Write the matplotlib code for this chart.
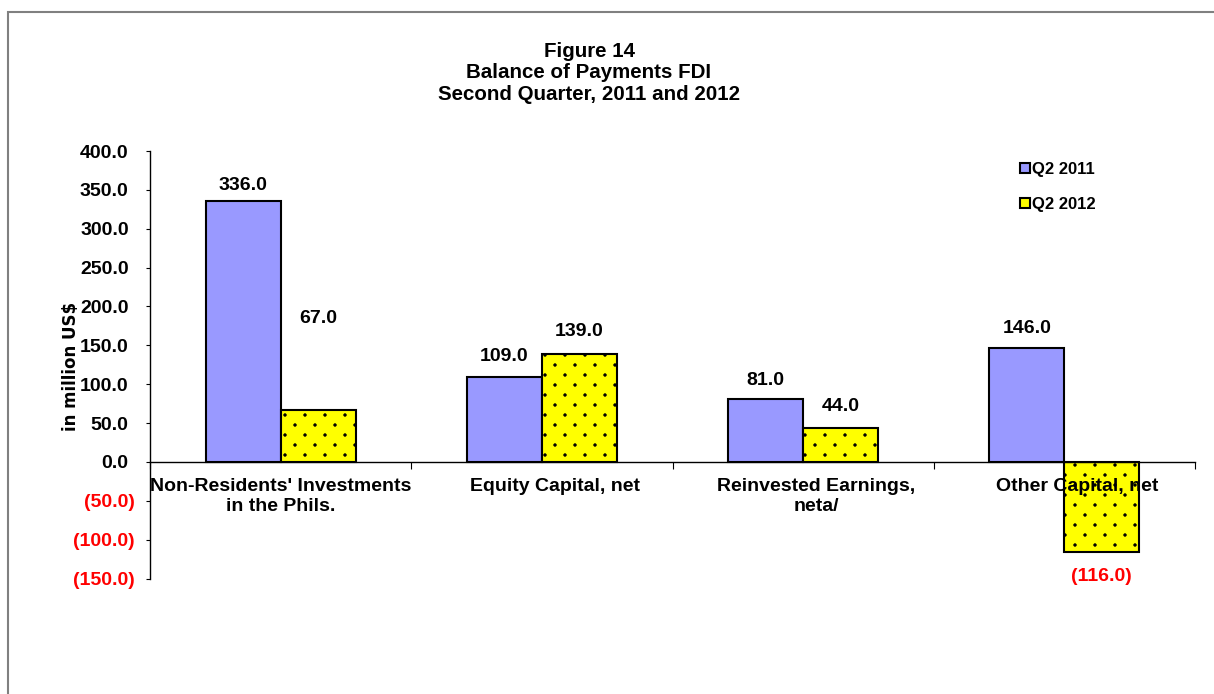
import matplotlib
matplotlib.use("Agg")
import matplotlib.pyplot as plt
import matplotlib.hatch as mhatch
import matplotlib.transforms as mtrans
from matplotlib.path import Path
import numpy as np
from matplotlib.ticker import FuncFormatter, FixedLocator
from matplotlib.patches import Rectangle

categories = ["Non-Residents' Investments\nin the Phils.", "Equity Capital, net",
              "Reinvested Earnings,\nneta/", "Other Capital, net"]
q2_2011 = [336.0, 109.0, 81.0, 146.0]
q2_2012 = [67.0, 139.0, 44.0, -116.0]
series_names = ["Q2 2011", "Q2 2012"]
yticks = [-150, -100, -50, 0, 50, 100, 150, 200, 250, 300, 350, 400]


# sparse staggered dot hatch (Excel-like dotted pattern)
class SparseDots(mhatch.HatchPatternBase):
    R, C, r = 10, 5, 0.013

    def __init__(self, hatch, density):
        n = hatch.count('.')
        self._circ = Path.unit_circle()
        self.num_vertices = (self.R * self.C * len(self._circ.vertices)) if n else 0

    def set_vertices_and_codes(self, vertices, codes):
        cv = self._circ.vertices * self.r
        cc = self._circ.codes
        vp, cp = [], []
        for j in range(self.R):
            for i in range(self.C):
                x0 = (i + 0.25 + 0.5 * (j % 2)) / self.C
                y0 = (j + 0.5) / self.R
                vp.append(cv + [x0, y0])
                cp.append(cc)
        np.concatenate(vp, out=vertices)
        np.concatenate(cp, out=codes)


try:
    mhatch._hatch_types = [SparseDots if t is mhatch.SmallFilledCircles else t
                           for t in mhatch._hatch_types]
except Exception:
    pass

plt.rcParams['font.family'] = ['Liberation Sans', 'DejaVu Sans']
plt.rcParams['font.weight'] = 'bold'
plt.rcParams['hatch.color'] = '#55553a'
plt.rcParams['hatch.linewidth'] = 0.5

W, H = 1214, 694
fig = plt.figure(figsize=(W/100, H/100), dpi=100)
fig.patches.append(Rectangle((8/W, -0.1), 1.2, 1 - 12/H + 0.1, transform=fig.transFigure,
                             fill=False, edgecolor='#808080', linewidth=1.5))

ax = fig.add_axes([150/W, 1 - 578.6/H, (1195-150)/W, (578.6-151)/H])
n = len(categories)
x = np.arange(n)
bw = 0.287
b1 = ax.bar(x - bw/2, q2_2011, bw, color='#9999FF', edgecolor='black', linewidth=1.5,
            label=series_names[0], zorder=2)
b2 = ax.bar(x + bw/2, q2_2012, bw, color='#FFFF00', edgecolor='black', linewidth=1.5,
            hatch='.', label=series_names[1], zorder=2)
ax.set_axisbelow(False)

ax.set_xlim(-0.5, n - 0.5)
ax.set_ylim(-150, 400)
ax.spines['top'].set_visible(False)
ax.spines['right'].set_visible(False)
ax.spines['bottom'].set_position(('data', 0))
ax.spines['left'].set_linewidth(1.0)
ax.spines['bottom'].set_linewidth(1.0)

ax.xaxis.set_major_locator(FixedLocator(np.arange(n + 1) - 0.5))
ax.xaxis.set_major_formatter(FuncFormatter(lambda v, p: ''))
ax.tick_params(axis='x', which='major', direction='out', length=5)
label_shift = [0.0, 0.05, 0.05, 0.05]
ax.set_xticks(x + np.array(label_shift), minor=True)
ax.set_xticklabels(categories, minor=True, fontsize=14, fontweight='bold', linespacing=1.2)
ax.tick_params(axis='x', which='minor', length=0, pad=11.5)

ax.set_yticks(yticks)
ax.yaxis.set_major_formatter(FuncFormatter(lambda v, p: f"({abs(v):.1f})" if v < 0 else f"{v:.1f}"))
ax.tick_params(axis='y', direction='out', length=3, labelsize=14, pad=8)
pos_shift = mtrans.ScaledTranslation(-6/100, 0, fig.dpi_scale_trans)
for tk, v in zip(ax.yaxis.get_major_ticks(), yticks):
    t = tk.label1
    t.set_fontweight('bold')
    if v < 0:
        t.set_color('red')
    else:
        t.set_transform(t.get_transform() + pos_shift)

ax.set_ylabel("in million US$", fontsize=12, fontweight='bold', family='DejaVu Sans')
ax.yaxis.set_label_coords(-0.0667, 0.497)

# value labels
lbl_off_2011 = [15, 21, 19, 20]
lbl_off_2012 = [91, 22, 21, -24]
for rect, v, off in zip(b1, q2_2011, lbl_off_2011):
    ax.annotate(f"{v:.1f}", (rect.get_x() + rect.get_width()/2, v), xytext=(0, off),
                textcoords='offset pixels', ha='center', va='center', fontsize=14, fontweight='bold')
for rect, v, off in zip(b2, q2_2012, lbl_off_2012):
    ax.annotate(f"({abs(v):.1f})" if v < 0 else f"{v:.1f}",
                (rect.get_x() + rect.get_width()/2, v), xytext=(0, off),
                textcoords='offset pixels', ha='center', va='center',
                fontsize=14, fontweight='bold', color='red' if v < 0 else 'black')

leg = ax.legend(loc='upper left', bbox_to_anchor=((1005-150)/(1195-150), 1 + 4/427.6),
                frameon=False, handlelength=0.6, handleheight=0.6,
                handletextpad=0.15, labelspacing=1.2, prop={'weight': 'bold', 'size': 12})

fig.text(589/W, 1 - 73/H, "Figure 14\nBalance of Payments FDI\nSecond Quarter, 2011 and 2012",
         ha='center', va='center', fontsize=14.8, fontweight='bold', linespacing=1.15)

fig.savefig("out.png", dpi=100)
